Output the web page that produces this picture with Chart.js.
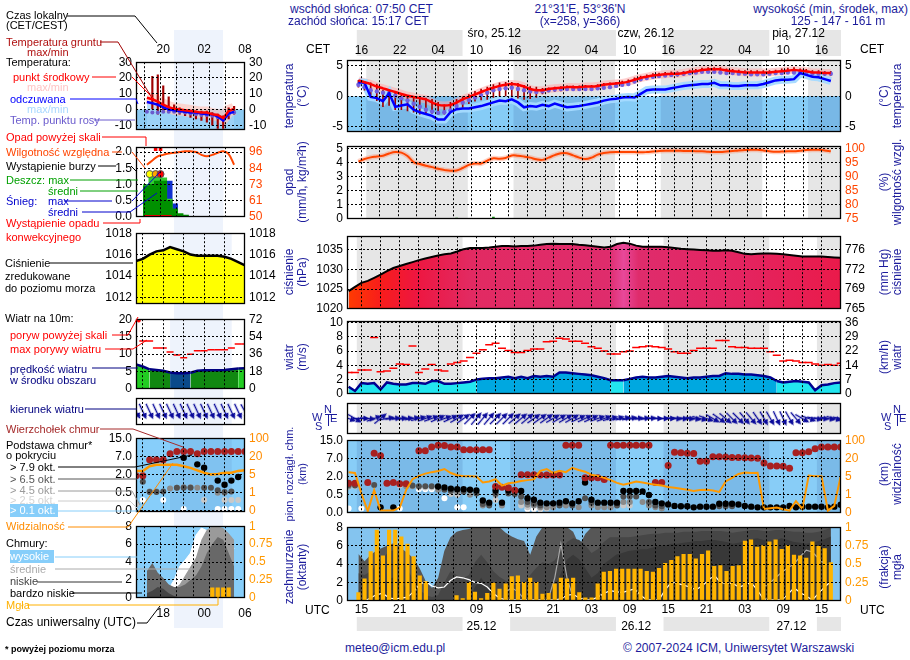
<!DOCTYPE html>
<html lang="pl">
<head>
<meta charset="utf-8">
<title>Meteogram ICM</title>
<script src="https://cdn.jsdelivr.net/npm/chart.js@4.4.1/dist/chart.umd.min.js"></script>
<style>
  html, body { margin: 0; padding: 0; background: #fff; }
  #page { position: relative; width: 910px; height: 660px; overflow: hidden;
          font-family: "Liberation Sans", Arial, sans-serif; }
  #page canvas { position: absolute; }
  .t { position: absolute; white-space: nowrap; font-size: 11px; line-height: 13px; }
  .h { font-size: 12px; color: #1c1c9c; }
  .vt { position: absolute; transform: rotate(-90deg); text-align: center; font-size: 12px;
        line-height: 13px; color: #1c1c9c; white-space: nowrap; }
  svg { position: absolute; left: 0; top: 0; }
</style>
</head>
<body>
<div id="page"></div>
<script>
// hours are counted from 00 UTC 24.12
const H_FIRST = 13;   // first hourly value of the main series
const M_FIRST = 14;   // first hourly value of the legend (left) series

// ---------- main meteogram ----------
const tempMid = [2.6,2.3,2.0,1.6,1.3,1.0,0.7,0.4,0.1,-0.1,
  -0.3,-0.5,-1.0,-1.4,-1.5,-1.4,-1.0,-0.5,-0.1,0.3,
  0.7,1.1,1.4,1.7,1.9,2.0,1.9,1.6,1.2,1.0,
  1.0,1.2,1.3,1.4,1.5,1.5,1.5,1.6,1.6,1.7,
  1.9,2.0,2.1,2.2,2.4,2.7,3.0,3.2,3.4,3.5,
  3.6,3.7,3.7,3.8,4.0,4.1,4.3,4.4,4.4,4.4,
  4.2,4.1,4.0,3.9,3.9,3.9,3.9,3.9,4.0,4.1,
  4.2,4.3,4.2,4.1,3.9,3.9,3.8,3.8];
const feelTemp = [2.3,2.2,-0.1,-0.3,-0.8,0.5,-1.7,-1.5,-1.3,-2.2,
  -2.6,-2.9,-3.2,-3.8,-3.8,-2.6,-2.1,-2.0,-2.0,-1.8,
  -1.6,-1.3,-1.0,-0.7,-0.8,-0.5,-1.0,-1.8,-1.6,-1.7,
  -1.4,-1.6,-1.2,-1.5,-1.8,-1.7,-1.6,-1.4,-1.2,-1.0,
  -0.7,-0.5,-0.4,-0.2,-0.1,-0.2,0.4,1.0,1.1,1.1,
  1.1,1.3,1.5,1.7,1.8,1.9,2.0,2.0,2.2,1.8,
  1.8,1.7,1.7,1.8,1.8,1.8,2.0,2.3,2.6,2.7,
  2.7,2.8,3.8,3.5,3.2,3.1,2.8,2.5];
const dewPoint = [1.9,1.5,1.0,0.8,0.6,0.5,0.1,-0.3,-0.7,-1.2,
  -1.7,-2.2,-2.5,-2.7,-2.6,-2.3,-1.6,-1.0,-0.6,-0.2,
  0.2,0.6,1.0,1.2,1.3,1.4,1.2,1.0,0.8,0.7,
  0.8,1.0,1.1,1.2,1.2,1.2,1.2,1.2,1.2,1.3,
  1.4,1.5,1.7,1.9,2.0,2.4,2.8,3.0,3.2,3.3,
  3.4,3.5,3.6,3.7,3.8,3.9,4.0,4.0,4.0,3.9,
  3.8,3.8,3.7,3.7,3.6,3.6,3.6,3.7,3.8,3.8,
  3.9,3.9,3.9,3.8,3.7,3.7,3.7,3.7];
const groundMax = [2.6,2.4,2.2,2.0,1.0,0.9,0.6,0.3,0.0,-0.1,
  -0.2,-0.3,-0.5,-1.0,-1.4,-1.0,-0.5,-0.1,0.3,0.8,
  1.2,1.5,1.9,2.2,2.3,2.3,2.1,1.8,1.6,1.5,
  1.3,1.4,1.5,1.6,1.7,1.7,1.7,1.8,1.8,1.9,
  2.1,2.2,2.3,2.5,2.7,3.0,3.3,3.5,3.7,3.8,
  3.9,4.0,4.0,4.1,4.3,4.4,4.6,4.7,4.7,4.7,
  4.5,4.4,4.3,4.2,4.2,4.2,4.2,4.2,4.3,4.5,
  4.6,4.7,4.5,4.4,4.2,4.2,4.1,4.1];
const groundMin = [1.5,1.0,0.2,-0.7,-1.7,-1.5,-2.2,-2.2,-2.4,-2.6,
  -2.9,-2.9,-2.8,-2.9,-2.9,-2.6,-2.2,-1.8,-1.2,-0.8,
  -0.6,-0.5,-0.2,0.0,0.0,-0.1,-0.3,-0.5,-0.4,-0.2,
  0.4,0.7,0.8,0.9,1.0,1.0,1.0,1.1,1.1,1.2,
  1.4,1.5,1.6,1.7,1.9,2.2,2.5,2.8,3.0,3.1,
  3.2,3.3,3.3,3.4,3.6,3.7,3.9,4.0,4.0,4.0,
  3.8,3.7,3.6,3.5,3.5,3.5,3.5,3.5,3.6,3.7,
  3.8,3.9,3.8,3.7,3.5,3.5,3.4,3.4];
const relHum = [95.5,96.4,97.0,97.3,97.6,98.4,98.9,98.7,97.5,95.3,
  94.6,94.0,93.5,92.9,92.5,92.2,92.3,93.2,94.3,94.8,
  94.8,95.8,96.7,96.5,96.8,97.7,97.6,97.3,96.9,96.3,
  96.1,96.9,97.8,98.5,98.5,97.7,96.9,96.4,96.9,98.0,
  98.6,98.8,98.9,98.9,98.9,98.9,98.8,98.9,99.1,99.3,
  99.4,99.4,99.4,99.3,99.3,99.2,99.2,99.0,98.9,98.9,
  99.1,99.3,99.5,99.6,99.7,99.7,99.5,99.2,99.0,99.1,
  99.2,99.2,99.4,99.6,99.7,99.7,99.5,99.2];
const precipHours = [29, 30, 35, 36, 56, 64];
const precipMm = [0.05, 0.03, 0.12, 0.04, 0.02, 0.03];
const pressure = [1024.5,1025.6,1026.6,1027.1,1027.9,1028.7,1029.6,1030.4,1030.9,1031.4,
  1031.9,1032.4,1032.8,1033.2,1033.6,1033.9,1034.1,1034.6,1035.2,1035.5,
  1035.5,1035.5,1035.6,1035.8,1036.0,1036.0,1035.9,1036.0,1036.0,1036.1,
  1036.3,1036.5,1036.6,1036.5,1036.5,1036.5,1036.3,1036.2,1036.0,1035.8,
  1035.6,1035.8,1036.5,1036.8,1036.6,1036.1,1035.8,1035.8,1035.8,1035.8,
  1035.7,1035.5,1035.3,1035.2,1035.1,1035.0,1034.9,1034.8,1034.8,1034.9,
  1034.8,1034.4,1034.0,1033.9,1034.0,1034.1,1034.1,1034.0,1033.9,1033.7,
  1033.5,1033.3,1033.3,1033.3,1033.3,1033.2,1033.1,1033.0];
const windSpeed = [1.0,0.4,1.5,1.4,1.5,0.6,1.6,1.4,1.3,1.3,
  1.5,1.5,1.4,1.8,1.8,1.4,1.4,1.5,1.6,1.7,
  2.0,2.1,2.2,2.2,2.3,2.4,2.2,2.4,2.2,2.5,
  2.4,2.5,2.4,3.0,3.0,2.9,2.8,2.7,2.6,2.4,
  2.2,1.9,1.9,1.9,2.1,2.3,2.4,2.3,2.3,2.4,
  2.5,2.4,2.3,2.2,2.3,2.3,2.4,2.5,2.5,2.9,
  2.8,2.8,2.7,2.7,2.6,2.5,2.3,1.8,1.6,1.7,
  1.8,1.7,1.6,0.5,1.2,1.3,1.5,1.6];
const windGust = [3.0,3.0,3.35,3.35,7.9,3.1,3.2,3.6,4.2,4.1,
  6.7,3.0,3.5,4.1,3.35,3.2,4.2,4.4,4.6,5.1,
  5.7,6.2,6.9,7.1,6.4,6.1,5.8,5.8,6.1,6.3,
  6.3,7.3,7.4,7.8,7.7,7.4,7.4,7.1,6.6,6.4,
  6.0,5.6,5.6,5.9,6.0,6.5,6.6,6.7,6.6,6.5,
  6.3,5.9,5.7,5.7,6.1,6.4,6.4,6.4,7.5,7.5,
  6.6,6.5,6.5,6.4,6.4,6.4,5.9,5.4,4.6,4.7,
  4.6,4.4,4.4,4.2,4.0,4.1,4.0,4.3];
const windDir = [290,300,270,275,250,230,260,265,265,265,
  260,255,250,250,245,250,245,240,235,225,
  220,220,220,225,225,225,230,230,230,235,
  235,235,240,240,240,240,245,245,245,250,
  250,255,255,260,260,265,265,265,270,270,
  270,275,275,275,280,285,290,300,305,310,
  315,315,320,320,325,330,330,335,335,330,
  320,300,290,280,275,280,285,280];
const cloudTop = [1.45,1.45,null,1.5,9.2,8.1,1.45,1.5,1.4,1.4,
  null,10.4,10.4,12.0,12.8,12.7,12.0,12.0,10.8,10.8,
  10.8,10.8,10.8,1.18,1.12,1.08,0.86,2.5,2.5,2.5,
  2.4,2.4,2.4,2.4,12.8,12.8,12.8,1.9,1.9,1.9,
  1.75,12.8,12.8,12.8,12.8,12.8,12.8,12.8,1.5,1.5,
  5.0,9.7,9.5,9.3,9.1,6.2,6.2,7.7,7.7,7.6,
  7.4,7.4,7.3,7.2,7.0,5.7,4.9,4.9,4.8,4.3,
  9.5,9.5,9.9,11.2,12.0,12.0,12.0,12.0];
const base79 = [null,null,null,null,null,0.15,null,0.15,null,null,
  null,null,null,null,1.17,1.1,1.0,0.95,0.95,0.9,
  0.85,0.34,0.28,0.84,0.28,0.84,0.84,0.8,0.4,0.36,
  0.28,0.26,0.26,0.28,0.32,0.26,0.32,1.5,0.36,0.28,
  0.28,0.28,0.28,0.8,0.8,0.8,0.77,0.49,0.3,0.26,
  0.23,0.19,0.18,0.18,0.15,0.17,0.17,0.17,0.25,0.25,
  0.25,0.23,0.19,0.17,0.15,0.15,0.15,0.15,0.15,0.19,
  0.15,0.17,0.17,0.17,0.17,0.15,0.17,0.22];
const base65Hours = [13,14,17,23,24,25,26,28,29,31,33,34,35,36,38,39,40,41,42,43,46,48,50,51,55,56,57,58,60,61,62,71,72,73];
const base65Km = [1.3,1.25,1.3,1.25,1.2,1.2,1.2,0.9,0.8,0.75,0.6,0.24,0.2,0.6,0.6,0.55,0.45,0.3,0.25,0.2,0.2,0.2,0.4,0.28,0.2,0.45,0.45,0.45,0.3,0.2,0.18,0.18,0.18,0.18];
const base45Hours = [13,22,23,27,30,32,34,36,37,40,41,42,43,44,45,47,49,51,52,53,54,56,57,59,60,61,62];
const base45Km = [1.2,1.2,1.2,0.9,0.7,0.5,0.2,0.5,0.2,0.3,0.22,0.2,0.15,0.15,0.15,0.2,0.15,0.2,0.15,0.15,0.15,0.3,0.3,0.3,0.2,0.15,0.12];
const base25Hours = [13,14,21,22,24,25,26,29,30,36,40,41,43,44,56,57];
const base25Km = [1.15,1.2,1.25,1.3,1.1,1.1,1.1,0.55,0.5,0.35,0.2,0.15,0.12,0.12,0.2,0.2];
const base01Hours = [13,15,21,24,25,26,28,30,31,41,42,43];
const base01Km = [0.12,0.12,0.12,0.95,0.95,0.95,0.4,0.15,0.15,0.1,0.1,0.1];
const visibility = [8.6,7.9,1.3,0.09,2.0,0.12,0.12,0.12,0.29,2.0,
  4.4,5.5,7.4,8.6,9.5,11.2,7.9,6.0,5.3,5.3,
  5.0,3.7,3.9,4.4,3.0,3.5,3.7,4.0,4.2,4.4,
  9.7,11.2,7.9,9.7,8.6,12.2,10.4,9.0,6.5,5.5,
  4.7,4.2,3.6,3.2,3.5,3.9,3.7,3.4,3.2,3.0,
  2.7,2.5,2.3,2.1,1.8,2.0,2.1,1.9,1.6,3.9,
  4.7,7.1,8.3,7.9,8.0,0.21,0.25,0.29,0.2,0.12,
  0.64,0.21,5.8,5.3,5.3,0.12,0.38,5.3];
const cloudTotal = [5.1,4.3,5.0,5.5,5.8,6.1,6.3,5.7,5.2,4.6,
  3.5,2.1,1.4,2.5,5.4,6.9,7.5,7.7,7.8,8,
  8,8,8,8,7.4,7.0,6.7,6.5,5.0,7.0,
  8,8,8,8,8,7.5,6.0,7.3,8,8,
  8,8,8,8,8,8,8,8,8,8,
  8,8,8,8,8,8,8,8,8,8,
  8,8,8,8,8,8,8,8,8,8,
  8,8,8,8,8,8,8,8];
const cloudLow = [3.0,2.8,3.2,4.0,4.6,5.4,5.5,4.6,3.4,2.2,
  1.2,0.6,0.4,0.6,2.0,3.2,2.8,2.4,2.8,4.2,
  5.0,4.2,3.2,2.6,2.2,1.8,1.6,2.0,2.8,3.6,
  4.2,4.0,4.4,5.4,6.4,6.8,6.6,6.0,5.2,5.6,
  6.4,6.9,6.9,6.9,6.9,7.0,7.1,7.2,7.3,7.3,
  7.4,7.4,7.4,7.5,7.5,7.5,7.6,7.6,7.6,7.6,
  7.5,7.4,7.5,7.6,7.7,7.7,7.6,7.6,7.7,7.7,
  7.6,7.5,7.5,7.4,7.4,7.5,7.7,7.9];
const cloudVeryLow = [0,0,0.5,1.2,1.8,2.4,2.6,2.0,1.2,0.5,
  0,0,0,0,0,0,0,0,0,1.5,
  2.5,1.5,0.5,0,0,0,0,0,0,0,
  0.5,1.0,1.5,3.0,4.5,5.0,4.5,3.5,2.5,3.0,
  4.0,4.5,5.0,5.2,5.4,5.5,5.6,5.6,5.8,6.0,
  6.0,6.2,6.2,6.3,6.4,6.5,6.5,6.6,6.6,6.5,
  6.4,6.2,6.3,6.5,6.7,6.8,6.6,6.5,6.6,6.8,
  6.6,6.4,6.3,6.2,6.3,6.5,6.7,7.0];
const cloudHigh = [0,0,0.3,0.7,0.8,0.3,0.2,0.3,0.4,1.0,
  1.8,2.1,1.6,1.4,1.5,2.2,2.6,2.5,2.3,2.0,
  1.9,1.5,0.8,0.3,0.1,0.1,0.1,0.1,0.1,0.1,
  0.1,0.1,0.1,0.2,0.6,0.7,0.3,0.1,0.1,0.4,
  0.8,1.1,1.0,0.9,1.1,1.3,0.6,0.1,0.1,0.1,
  1.2,2.0,1.9,1.7,1.5,1.2,1.6,2.2,2.8,2.0,
  1.9,1.9,1.5,1.7,2.0,1.2,0.2,0.1,0.1,0.1,
  0.7,1.4,0.9,0.5,0.1,0.8,1.5,2.1];
const midHours = [37,38,39,40,44,45,46,47,48,79,80,81,82,83,84,85,86,87,88,89,90];
const midOkta = [1.0,1.4,1.0,0.2,0.3,2.5,6.2,2.5,0.3,1.5,1.9,2.5,3.1,3.6,4.0,4.8,5.5,5.3,4.6,4.0,3.9];
const fog = [0.11,0.30,0.67,0.96,0.61,0.96,0.96,0.87,0.77,0.60,
  0.34,0.26,0,0,0,0,0.07,0.03,0.25,0.12,
  0.03,0.10,0.24,0.16,0.23,0.33,0.34,0.25,0.31,0.25,
  0.09,0.10,0.23,0.31,0.30,0.31,0.11,0.04,0.04,0.23,
  0.39,0.40,0.43,0.43,0.43,0.43,0.43,0.40,0.39,0.44,
  0.51,0.55,0.60,0.63,0.63,0.57,0.63,0.68,0.47,0.48,
  0.40,0.47,0.48,0.81,0.83,0.73,0.75,0.80,0.83,0.70,
  0.75,0.62,0.61,0.58,0.80,0.74,0.71,0.52];

// ---------- legend example (left column) ----------
const miniTemp = [7.4,6.5,5.0,3.0,1.5,0.4,0.0,-0.5,-1.0,-1.5,-2.0,-2.0,-3.0,-3.5,-5.5,-1.0,0.4];
const miniFeel = [4.7,4.0,3.0,1.5,0.0,-0.5,-1.0,-1.5,-2.0,-2.0,-2.5,-3.0,-3.0,-4.5,-7.0,-2.5,-1.5];
const miniDew = [-1.5,-2.0,-2.0,-1.5,-1.5,-1.5,-1.5,-2.0,-2.5,-3.0,-3.5,-3.5,-4.0,-5.0,-6.0,-3.0,-2.0];
const miniGroundHours = [15,16,17,18,19,20,21,22,23,24,25,26,27,28,29,30];
const miniGroundMax = [21,22,15,8,3,1,0,0,-1,-1,-1,-2,-3,-4,1,2];
const miniGroundMin = [0,-3,-2,-1,-2,-3,-4,-5,-6,-7,-8,-10,-12,-12,-6,-3];
const miniRh = [87,90,93,94,95,95.5,96,96.5,96.5,96,94,93,94,95.5,96.5,94.5,87];
const miniRainHours = [14,15,16,17,18,19,20,21];
const miniRainMm = [0.95,1.0,1.1,1.1,0.5,0.25,0.1,0.05];
const miniRainMaxHours = [14,15,16,17,18];
const miniRainMax = [1.0,1.25,1.3,1.2,0.55];
const miniSnowHours = [18,19];
const miniSnowMm = [1.1,0.4];
const stormHours = [14.5,15.6,16.5];
const stormLevel = [1.32,1.32,1.32];
const overHours = [15.6,16.5];
const overLevel = [2.09,2.09];
const precipOccHours = [14,15,16,17,18];
const precipOccLevel = [0.03,0.03,0.03,0.03,0.03];
const miniPress = [1015.4,1015.6,1016.0,1016.3,1016.4,1016.7,1016.5,1016.3,1016.0,1015.9,1015.9,1015.9,1015.9,1015.8,1015.6,1015.3,1015.0];
const miniWind = [7.0,6.4,5.6,5.4,5.2,4.7,4.5,4.5,4.6,5.2,5.3,5.3,5.3,5.4,5.6,5.8,5.9];
const miniGust = [null,13.7,13.7,11.7,11.7,10.6,9.7,8.9,9.9,10.9,10.9,11.2,11.2,11.2,11.7,12.9,12.9];
const miniGustOverHours = [14.4];
const miniGustOver = [19.6];
const miniDir = [330,335,335,335,335,335,335,335,335,335,335,335,335,335,335,335,330];
const miniTop = [1.9,1.9,6.1,6.1,6.1,8.1,9.1,9.1,9.1,8.1,9.1,9.1,9.1,9.1,9.1,9.1,9.1];
const miniB79 = [null,null,null,null,null,null,null,6.6,null,4.8,3.9,null,1.5,1.16,1.5,1.8,null];
const miniB65 = [null,1.4,0.56,0.56,0.6,null,0.9,0.9,0.9,null,0.9,0.9,0.7,0.56,0.6,null,null];
const miniB45 = [null,null,0.6,0.6,null,0.85,0.9,0.95,0.95,0.9,null,null,0.5,0.5,null,null,null];
const miniB25 = [0.18,null,null,null,null,null,null,null,null,null,0.3,null,null,0.3,0.3,0.3,null];
const miniB01 = [null,0.3,null,null,0.3,null,null,0.05,null,null,null,null,0.05,0.05,0.05,0.05,null];
const miniVis = [8,8,11.9,13,13,13,13,11.9,10.5,8.5,6.5,5,5.5,6.5,6.5,8,8.5];
const miniHigh = [0,0,0,0,1,2,3.5,4.2,5.0,7.0,7.8,7.5,7.5,7.6,7.2,6.5,5.5];
const miniMid = [1.5,3.0,2.5,2.0,1.5,1.0,1.5,2.5,3.5,4.5,6.5,7.6,8,8,7.8,7.2,6.5];
const miniLow = [3.0,3.9,2.8,2.2,1.5,1.2,1.2,1.5,2.0,2.5,3.5,5.0,6.0,6.8,6.5,5.0,3.5];
const miniVeryLow = [0.5,0.8,1.2,1.0,0.5,0.2,0,0,0,0,0,0,0,0,0,0,0];
const miniFog = [0,0,0,0,0,0,0,0,0,0,0,0,0.14,0.14,0.14,0.14,0];

// ---------- axes ----------
const nights = [[14.28, 30.83], [38.28, 54.83], [62.28, 78.83], [86.28, 102.83]];
const miniNight = [19, 28.05];
const hourTicks = [15, 21, 27, 33, 39, 45, 51, 57, 63, 69, 75, 81, 87];
const cetLabels = ['16','22','04','10','16','22','04','10','16','22','04','10','16'];
const utcLabels = ['15','21','03','09','15','21','03','09','15','21','03','09','15'];
const dayTopHours = [35.8, 59.5, 83.4];
const dayTopLabels = ['śro, 25.12', 'czw, 26.12', 'pią, 27.12'];
const dayBottomHours = [33.8, 58, 82.3];
const dayBottomLabels = ['25.12', '26.12', '27.12'];
const tempTicks = [-5, 0, 5], tempLabels = ['-5', '0', '5'];
const precTicks = [0, 1, 2, 3, 4, 5], precLabels = ['0', '1', '2', '3', '4', '5'];
const humTicks = [75, 80, 85, 90, 95, 100], humLabels = ['75', '80', '85', '90', '95', '100'];
const pressTicks = [1020, 1025, 1030, 1035], pressLabels = ['1020', '1025', '1030', '1035'];
const mmHgLabels = ['765', '769', '772', '776'];
const windTicks = [0, 2, 4, 6, 8, 10], windLabels = ['0', '2', '4', '6', '8', '10'];
const kmhLabels = ['0', '7', '14', '22', '29', '36'];
const baseKmEdges = [0, 0.5, 2, 7, 15], visKmEdges = [0, 1, 5, 20, 100];
const baseLabels = ['0.0', '0.5', '2.0', '7.0', '15.0'], visLabels = ['0', '1', '5', '20', '100'];
const oktaTicks = [0, 2, 4, 6, 8], oktaLabels = ['0', '2', '4', '6', '8'];
const fracTicks = [0, 0.25, 0.5, 0.75, 1], fracLabels = ['0', '0.25', '0.5', '0.75', '1'];

const X0 = 12.75, X1 = 90.05;
const grid3 = [];
for (let h = 15; h < X1 - 1; h += 3) grid3.push(h);
const miniGrid = [15, 18, 21, 24, 27];

Chart.defaults.font.family = '"Liberation Sans", Arial, sans-serif';
Chart.defaults.font.size = 12;
Chart.defaults.color = '#000';

const page = document.getElementById('page');

// ---------- helpers ----------
const series = (vals, first) => vals.map((v, i) => ({x: first + i, y: v}));
const sparse = (hours, vals) => hours.map((h, i) => ({x: h, y: vals[i]}));
function toIdx(v, e) {
  if (v == null) return null;
  for (let i = 1; i < e.length; i++) if (v <= e[i]) return i - 1 + (v - e[i - 1]) / (e[i] - e[i - 1]);
  return e.length - 1;
}
const idxPts = (pts, e) => pts.map(p => ({x: p.x, y: toIdx(p.y, e)}));
const line = (data, color, width, extra) => Object.assign({data, borderColor: color, borderWidth: width, pointRadius: 0, fill: false, tension: 0}, extra || {});
const dots = (data, color, r, extra) => Object.assign({data, showLine: false, pointRadius: r, pointBackgroundColor: color, pointBorderWidth: 0}, extra || {});
const bars = (data, color, thick, extra) => Object.assign({type: 'bar', data, backgroundColor: color, barThickness: thick, grouped: false, borderWidth: 0}, extra || {});
const dashes = (data, color, r) => ({data, showLine: false, pointStyle: 'line', pointRadius: r, pointBorderColor: color, pointBorderWidth: 1.5});
function stack(list) { list.forEach((d, i) => { d.order = list.length - i; }); return list; }

function arrowImg(len, color) {
  const c = document.createElement('canvas');
  c.width = len; c.height = 7;
  const g = c.getContext('2d');
  g.strokeStyle = color; g.fillStyle = color; g.lineWidth = 1.4;
  g.beginPath(); g.moveTo(0, 3.5); g.lineTo(len - 4, 3.5); g.stroke();
  g.beginPath(); g.moveTo(len, 3.5); g.lineTo(len - 6, 0.5); g.lineTo(len - 6, 6.5); g.closePath(); g.fill();
  return c;
}

const bgPlugin = {
  id: 'bg',
  beforeDatasetsDraw(chart, args, o) {
    const a = chart.chartArea, ctx = chart.ctx, xs = chart.scales.x;
    const paint = (top, bot, day, night) => {
      if (day) { ctx.fillStyle = day; ctx.fillRect(a.left, top, a.right - a.left, bot - top); }
      if (night && o.bands) {
        ctx.fillStyle = night;
        o.bands.forEach(b => {
          const l = Math.max(a.left, xs.getPixelForValue(b[0]));
          const r = Math.min(a.right, xs.getPixelForValue(b[1]));
          if (r > l) ctx.fillRect(l, top, r - l, bot - top);
        });
      }
    };
    ctx.save();
    if (o.fullY) paint(o.fullY[0], o.fullY[1], o.day, o.night);
    else paint(a.top, a.bottom, o.day, o.night);
    if (o.below) {
      const yz = chart.scales.y.getPixelForValue(o.below.value);
      paint(yz, a.bottom, o.below.day, o.below.night);
    }
    ctx.restore();
  },
  afterDraw(chart, args, o) {
    if (!o.frame) return;
    const a = chart.chartArea, ctx = chart.ctx;
    ctx.save();
    ctx.strokeStyle = '#000'; ctx.lineWidth = 1.3;
    ctx.strokeRect(Math.round(a.left) + 0.5, Math.round(a.top) + 0.5, Math.round(a.width) - 1, Math.round(a.height) - 1);
    ctx.restore();
  }
};
Chart.register(bgPlugin);

// grid lines and tick labels are drawn above the datasets (z: 1), as in the original
function gridX(min, max, vals) {
  return {type: 'linear', min, max,
    grid: {color: '#000', lineWidth: 1, drawTicks: false, z: 1},
    border: {display: false, dash: [2, 2]},
    ticks: {display: false},
    afterBuildTicks: s => { s.ticks = vals.map(v => ({value: v})); },
    afterFit: s => { s.height = 0; }};
}
function labelAxis(pos, min, max, vals, labels, h) {
  return {type: 'linear', axis: 'x', position: pos, min, max,
    grid: {display: false, drawTicks: false}, border: {display: false},
    ticks: {autoSkip: false, maxRotation: 0, padding: 0, z: 1, callback: (v, i) => labels[i]},
    afterBuildTicks: s => { s.ticks = vals.map(v => ({value: v})); },
    afterFit: s => { s.height = h; }};
}
function yAx(pos, min, max, vals, labels, w, color, grid) {
  return {type: 'linear', position: pos, min, max,
    grid: {display: !!grid, color: '#000', lineWidth: 1, drawTicks: false, z: 1},
    border: {display: false, dash: [2, 2]},
    ticks: {color: color || '#000', padding: 4, autoSkip: false, z: 1, callback: (v, i) => labels[i]},
    afterBuildTicks: s => { s.ticks = vals.map(v => ({value: v})); },
    afterFit: s => { s.width = w; }};
}

function makeChart(s) {
  const c = document.createElement('canvas');
  c.width = s.w; c.height = s.h;
  Object.assign(c.style, {left: s.l + 'px', top: s.t + 'px', width: s.w + 'px', height: s.h + 'px'});
  page.appendChild(c);
  return new Chart(c, {
    type: 'line',
    data: {datasets: s.datasets || []},
    options: {
      responsive: false, animation: false, events: [],
      layout: {padding: s.pad},
      plugins: {legend: {display: false}, tooltip: {enabled: false}, bg: s.bg || {}},
      scales: Object.assign({x: s.x}, s.scales || {})
    }
  });
}
function mainPanel(top, bottom, scales, datasets, bg, noY) {
  return makeChart({l: 300, t: top - 8, w: 610, h: bottom - top + 16,
    pad: {top: 8, bottom: 8, left: noY ? 47 : 0, right: noY ? 69 : 0},
    x: gridX(X0, X1, grid3), scales, datasets, bg});
}
function miniPanel(top, bottom, scales, datasets, bg, noY) {
  return makeChart({l: 100, t: top - 8, w: 180, h: bottom - top + 16,
    pad: {top: 8, bottom: 8, left: noY ? 36 : 0, right: noY ? 35 : 0},
    x: gridX(14, 30, miniGrid), scales, datasets, bg});
}
function pressureFill(ctx) {
  const ch = ctx.chart, a = ch.chartArea;
  if (!a) return '#e02a66';
  const g = ch.ctx.createLinearGradient(a.left, 0, a.right, 0);
  [[0, '#ff3c00'], [0.07, '#f81c1c'], [0.14, '#ee1640'], [0.25, '#e22a62'], [0.53, '#df2c6c'],
   [0.56, '#e8489a'], [0.59, '#df2c6c'], [0.8, '#e42460'], [1, '#ea1a4a']].forEach(s => g.addColorStop(s[0], s[1]));
  return g;
}

const grayBg = {day: '#ffffff', night: '#e6e6e6', bands: nights, frame: true};
const miniBg = {day: '#ffffff', night: '#eef3fc', bands: [miniNight], frame: true};

// ---------- main panels ----------
mainPanel(57, 135, {
  y: yAx('left', -5.8, 5.9, tempTicks, tempLabels, 47, null, true),
  y2: yAx('right', -5.8, 5.9, tempTicks, tempLabels, 69)
}, stack([
  line(series(tempMid, H_FIRST), 'rgba(255,170,170,0.55)', 8, {tension: 0.3}),
  line(series(feelTemp, H_FIRST), 'rgba(165,218,255,0.95)', 8),
  bars(groundMax.map((v, i) => ({x: H_FIRST + i, y: [groundMin[i], v]})), '#a00000', 1),
  dots(series(dewPoint, H_FIRST), '#7060e0', 2.2),
  line(series(feelTemp, H_FIRST), '#0000ff', 2.5),
  line(series(tempMid, H_FIRST), '#ff0000', 2.5, {tension: 0.3})
]), {day: '#ffffff', night: '#e6e6e6', bands: nights, below: {value: 0, day: '#86ccf6', night: '#78b8e6'}, frame: true});

mainPanel(143, 222, {
  y: yAx('left', 0, 5.2, precTicks, precLabels, 47, null, true),
  y2: yAx('right', 75, 101, humTicks, humLabels, 69, '#ff4500')
}, stack([
  bars(sparse(precipHours, precipMm), '#109010', 2),
  line(series(relHum, H_FIRST), 'rgba(255,130,90,0.35)', 5, {yAxisID: 'y2', tension: 0.4}),
  line(series(relHum, H_FIRST), '#ff4500', 2, {yAxisID: 'y2', tension: 0.4})
]), grayBg);

mainPanel(233, 312, {
  y: yAx('left', 1020, 1038.5, pressTicks, pressLabels, 47, null, true),
  y2: yAx('right', 1020, 1038.5, pressTicks, mmHgLabels, 69)
}, stack([
  line(series(pressure, H_FIRST), '#000000', 2, {fill: 'start', backgroundColor: pressureFill})
]), grayBg);

mainPanel(318, 397, {
  y: yAx('left', 0, 10.2, windTicks, windLabels, 47, null, true),
  y2: yAx('right', 0, 10.2, windTicks, kmhLabels, 69)
}, stack([
  line(series(windSpeed, H_FIRST), '#000090', 2.5, {fill: 'origin', backgroundColor: '#22e6f0',
    segment: {backgroundColor: c => (c.p0.parsed.y + c.p1.parsed.y) / 2 >= 1.95 ? '#00a8e0' : '#22e6f0'}}),
  dashes(series(windGust, H_FIRST), '#ff0000', 4)
]), grayBg);

const arrowMain = arrowImg(16, '#0a0a9a');
mainPanel(403, 434, {y: {display: false, min: -1, max: 1}}, stack([
  {data: windDir.map((d, i) => ({x: H_FIRST + i, y: 0})), showLine: false, pointStyle: arrowMain,
   pointRadius: 6, pointRotation: c => windDir[c.dataIndex] + 90}
]), grayBg, true);

mainPanel(437, 516, {
  y: yAx('left', 0, 4, [0, 1, 2, 3, 4], baseLabels, 47, null, true),
  y2: yAx('right', 0, 4, [0, 1, 2, 3, 4], visLabels, 69, '#ff8c00')
}, stack([
  dots(idxPts(sparse(base01Hours, base01Km), baseKmEdges), '#ffffff', 3),
  dots(idxPts(sparse(base25Hours, base25Km), baseKmEdges), '#c8c8c8', 3),
  dots(idxPts(sparse(base45Hours, base45Km), baseKmEdges), '#8a8a8a', 3),
  dots(idxPts(sparse(base65Hours, base65Km), baseKmEdges), '#505050', 3),
  dots(idxPts(series(base79, H_FIRST), baseKmEdges), '#000000', 3.2),
  dots(idxPts(series(cloudTop, H_FIRST), baseKmEdges), '#a82020', 3.5),
  line(idxPts(series(visibility, H_FIRST), visKmEdges), '#ff9900', 2, {yAxisID: 'y2'})
]), {day: '#88cdf7', night: '#7abae8', bands: nights, frame: true});

mainPanel(524, 604, {
  y: yAx('left', 0, 8, oktaTicks, oktaLabels, 47, null, true),
  y2: yAx('right', 0, 1, fracTicks, fracLabels, 69, '#ff9900')
}, stack([
  line(series(cloudTotal, H_FIRST), 'rgba(0,0,0,0)', 0, {fill: 'origin', backgroundColor: '#575757'}),
  line(series(cloudLow, H_FIRST), 'rgba(0,0,0,0)', 0, {fill: 'origin', backgroundColor: '#464646'}),
  line(series(cloudVeryLow, H_FIRST), 'rgba(0,0,0,0)', 0, {fill: 'origin', backgroundColor: '#383838'}),
  line(sparse(midHours, midOkta), '#a8a8a8', 1.2, {spanGaps: 1.5}),
  line(series(cloudHigh, H_FIRST), '#ffffff', 1.2),
  bars(series(fog, H_FIRST), '#ffb400', 3.5, {yAxisID: 'y2'})
]), {day: '#84c4ef', frame: true});

// time axes above and below the main panels
makeChart({l: 300, t: 27, w: 610, h: 30, pad: {top: 0, bottom: 0, left: 47, right: 69},
  x: labelAxis('bottom', X0, X1, hourTicks, cetLabels, 14),
  scales: {x2: labelAxis('top', X0, X1, dayTopHours, dayTopLabels, 14), y: {display: false}},
  bg: {night: '#e6e6e6', bands: nights, fullY: [3, 29]}});
makeChart({l: 300, t: 603, w: 610, h: 30, pad: {top: 0, bottom: 0, left: 47, right: 69},
  x: labelAxis('top', X0, X1, hourTicks, utcLabels, 14),
  scales: {x2: labelAxis('bottom', X0, X1, dayBottomHours, dayBottomLabels, 14), y: {display: false}},
  bg: {night: '#e6e6e6', bands: nights, fullY: [14, 28]}});

// ---------- legend column panels ----------
const miniTempChart = miniPanel(59, 133, {
  y: yAx('left', -12.9, 30, [-10, 0, 10, 20, 30], ['-10', '0', '10', '20', '30'], 36, null, true),
  y2: yAx('right', -12.9, 30, [-10, 0, 10, 20, 30], ['-10', '0', '10', '20', '30'], 35)
}, stack([
  line(series(miniFeel, M_FIRST), 'rgba(0,0,0,0)', 0, {fill: 'start', backgroundColor: 'rgba(160,212,250,0.75)'}),
  line(series(miniTemp, M_FIRST), 'rgba(255,200,190,0.7)', 12),
  bars(miniGroundMax.map((v, i) => ({x: miniGroundHours[i], y: [miniGroundMin[i], v]})), '#a00000', 1.5),
  dots(series(miniDew, M_FIRST), '#6a5acd', 2),
  line(series(miniFeel, M_FIRST), '#0000ff', 2.5),
  line(series(miniTemp, M_FIRST), '#ff0000', 2.5)
]), Object.assign({}, miniBg, {below: {value: 0, day: '#8ccaf2', night: '#84c2ee'}}));

miniPanel(144, 220, {
  y: yAx('left', 0, 2.15, [0, 0.5, 1, 1.5, 2], ['0.0', '0.5', '1.0', '1.5', '2.0'], 36, null, true),
  y2: yAx('right', 50, 99.45, [50, 61.5, 73, 84.5, 96], ['50', '61', '73', '84', '96'], 35, '#ff4500')
}, stack([
  bars(sparse(miniSnowHours, miniSnowMm), '#1030d0', 7),
  bars(sparse(miniRainMaxHours, miniRainMax), '#33cc33', 7),
  bars(sparse(miniRainHours, miniRainMm), '#009000', 7),
  dashes(sparse(precipOccHours, precipOccLevel), '#ff0000', 3),
  line(series(miniRh, M_FIRST), '#ff4500', 2, {yAxisID: 'y2', tension: 0.4}),
  dots(sparse(stormHours, stormLevel), ['#ffff00', '#ffa500', '#ff0000'], 3.5, {pointBorderWidth: 1, pointBorderColor: '#555'}),
  dots(sparse(overHours, overLevel), '#ff0000', 2.5, {pointStyle: 'rect'})
]), miniBg);

miniPanel(230, 307, {
  y: yAx('left', 1011.4, 1018, [1012, 1014, 1016, 1018], ['1012', '1014', '1016', '1018'], 36, null, true),
  y2: yAx('right', 1011.4, 1018, [1012, 1014, 1016, 1018], ['1012', '1014', '1016', '1018'], 35)
}, stack([
  line(series(miniPress, M_FIRST), '#000000', 2.5, {fill: 'start', backgroundColor: '#ffff00'})
]), miniBg);

miniPanel(316, 392, {
  y: yAx('left', 0, 20, [0, 5, 10, 15, 20], ['0', '5', '10', '15', '20'], 36, null, true),
  y2: yAx('right', 0, 20, [0, 5, 10, 15, 20], ['0', '18', '36', '54', '72'], 35)
}, stack([
  line(series(miniWind, M_FIRST), '#000080', 2.5, {fill: 'origin', backgroundColor: '#118811',
    segment: {backgroundColor: c => {
      const m = (c.p0.parsed.y + c.p1.parsed.y) / 2;
      return m >= 5.8 ? '#22cc22' : (m < 4.8 ? '#0a4a8a' : '#118811');
    }}}),
  dashes(series(miniGust, M_FIRST), '#ff0000', 3.5),
  dots(sparse(miniGustOverHours, miniGustOver), '#ff0000', 2)
]), miniBg);

const arrowMini = arrowImg(17, '#0a0a9a');
miniPanel(398, 425, {y: {display: false, min: -1, max: 1}}, stack([
  {data: miniDir.map((d, i) => ({x: M_FIRST + i, y: 0})), showLine: false, pointStyle: arrowMini,
   pointRadius: 6, pointRotation: c => miniDir[c.dataIndex] + 90}
]), miniBg, true);

miniPanel(435, 515, {
  y: yAx('left', -0.05, 4, [0, 1, 2, 3, 4], baseLabels, 36, null, true),
  y2: yAx('right', -0.05, 4, [0, 1, 2, 3, 4], visLabels, 35, '#ff8c00')
}, stack([
  dots(idxPts(series(miniB01, M_FIRST), baseKmEdges), '#ffffff', 3),
  dots(idxPts(series(miniB25, M_FIRST), baseKmEdges), '#c8c8c8', 3),
  dots(idxPts(series(miniB45, M_FIRST), baseKmEdges), '#8a8a8a', 3),
  dots(idxPts(series(miniB65, M_FIRST), baseKmEdges), '#505050', 3),
  dots(idxPts(series(miniB79, M_FIRST), baseKmEdges), '#000000', 3.2),
  dots(idxPts(series(miniTop, M_FIRST), baseKmEdges), '#a82020', 3.5),
  line(idxPts(series(miniVis, M_FIRST), visKmEdges), '#ff9900', 2.5, {yAxisID: 'y2'})
]), {day: '#87cefa', night: '#80c2f0', bands: [miniNight], frame: true});

miniPanel(523, 601, {
  y: yAx('left', 0, 8, oktaTicks, ['0', '2', '4', '6', '8'], 36, null, true),
  y2: yAx('right', 0, 1, fracTicks, fracLabels, 35, '#ff9900')
}, stack([
  line(series(miniHigh, M_FIRST), '#ffffff', 1, {fill: 'origin', backgroundColor: '#ffffff'}),
  line(series(miniMid, M_FIRST), 'rgba(0,0,0,0)', 0, {fill: 'origin', backgroundColor: '#9a9a9a'}),
  line(series(miniLow, M_FIRST), 'rgba(0,0,0,0)', 0, {fill: 'origin', backgroundColor: '#686868'}),
  line(series(miniVeryLow, M_FIRST), 'rgba(0,0,0,0)', 0, {fill: 'origin', backgroundColor: '#444444'}),
  bars(series(miniFog, M_FIRST), '#ffb400', 3.5, {yAxisID: 'y2'})
]), {day: '#87cefa', night: '#87cefa', frame: true});

makeChart({l: 100, t: 40, w: 180, h: 18, pad: {top: 0, bottom: 0, left: 36, right: 35},
  x: labelAxis('bottom', 14, 30, [18, 24, 30], ['20', '02', '08'], 16), scales: {y: {display: false}}});
makeChart({l: 100, t: 604, w: 180, h: 18, pad: {top: 0, bottom: 0, left: 36, right: 35},
  x: labelAxis('bottom', 14, 30, [18, 24, 30], ['18', '00', '06'], 16), scales: {y: {display: false}}});

// pale night band behind the legend column, placed from the legend chart's own scale
(() => {
  const xs = miniTempChart.scales.x;
  const l = 100 + xs.getPixelForValue(miniNight[0]), r = 100 + xs.getPixelForValue(miniNight[1]);
  const d = document.createElement('div');
  d.style.cssText = `position:absolute;left:${l}px;top:30px;width:${r - l}px;height:598px;background:#eef3fc;`;
  page.insertBefore(d, page.firstChild);
})();

// ---------- texts ----------
function txt(s, x, y, style, cls) {
  const d = document.createElement('div');
  d.className = 't' + (cls ? ' ' + cls : '');
  d.textContent = s;
  d.style.left = x + 'px'; d.style.top = y + 'px';
  if (style) d.style.cssText += style;
  page.appendChild(d);
  return d;
}
txt('wschód słońca: 07:50 CET', 290, 3, '', 'h');
txt('zachód słońca: 15:17 CET', 288, 15, '', 'h');
txt("21°31'E, 53°36'N", 580, 3, 'transform:translateX(-50%);', 'h');
txt('(x=258,  y=366)', 580, 15, 'transform:translateX(-50%);', 'h');
txt('wysokość (min, środek, max)', 0, 3, 'left:auto;right:2px;', 'h');
txt('125 - 147 - 161 m', 838, 15, 'transform:translateX(-50%);', 'h');
txt('CET', 306, 43, 'font-size:12px;');
txt('CET', 860, 43, 'font-size:12px;');
txt('UTC', 305, 604, 'font-size:12px;');
txt('UTC', 860, 604, 'font-size:12px;');
txt('meteo@icm.edu.pl', 345, 642, '', 'h');
txt('© 2007-2024 ICM, Uniwersytet Warszawski', 623, 642, '', 'h');

function vtitle(lines, cx, cy, size) {
  const d = document.createElement('div');
  d.className = 'vt';
  d.innerHTML = lines.join('<br>');
  d.style.width = '140px'; d.style.height = '26px';
  d.style.left = (cx - 70) + 'px'; d.style.top = (cy - 13) + 'px';
  if (size) d.style.fontSize = size + 'px';
  page.appendChild(d);
}
[[['temperatura', '(°C)'], ['(°C)', 'temperatura'], 96],
 [['opad', '(mm/h, kg/m²h)'], ['(%)', 'wilgotność wzgl.'], 182],
 [['ciśnienie', '(hPa)'], ['(mm Hg)', 'ciśnienie'], 272],
 [['wiatr', '(m/s)'], ['(km/h)', 'wiatr'], 357],
 [['pion. rozciągł. chm.', '(km)'], ['(km)', 'widzialność'], 474, 11],
 [['zachmurzenie', '(oktanty)'], ['(frakcja)', 'mgła'], 567]
].forEach(t => { vtitle(t[0], 296, t[2], t[3]); vtitle(t[1], 891, t[2]); });

function compass(cx, cy) {
  const d = document.createElement('div');
  d.style.cssText = `position:absolute;left:${cx - 12}px;top:${cy - 14}px;width:26px;height:28px;color:#1c1c9c;font-size:11px;line-height:11px;font-family:"Liberation Sans",Arial,sans-serif;`;
  d.innerHTML = '<span style="position:absolute;left:12px;top:0">N</span>' +
    '<span style="position:absolute;left:0;top:8px">W</span>' +
    '<span style="position:absolute;left:18px;top:9px">E</span>' +
    '<span style="position:absolute;left:3px;top:17px">S</span>' +
    '<div style="position:absolute;left:13px;top:10px;width:12px;border-top:1px solid #1c1c9c"></div>' +
    '<div style="position:absolute;left:16px;top:10px;height:12px;border-left:1px solid #1c1c9c"></div>';
  page.appendChild(d);
}
compass(324, 418);
compass(893, 418);

const legend = [
  ['Czas lokalny', 6, 9, '#000'], ['(CET/CEST)', 6, 19, '#000'],
  ['Temperatura gruntu', 6, 36, '#b01010'], ['max/min', 27, 46, '#b01010'],
  ['Temperatura:', 6, 56, '#000'], ['punkt środkowy', 13, 71, '#ff0000'],
  ['max/min', 27, 81, '#ffc4c4'], ['odczuwana', 10, 93, '#0000ff'],
  ['max/min', 27, 103, '#a8d8ff'], ['Temp. punktu rosy', 10, 114, '#6a5acd'],
  ['Opad powyżej skali', 6, 131, '#ff0000'], ['Wilgotność względna', 6, 146, '#ff4500'],
  ['Wystąpienie burzy', 6, 160, '#000'], ['Deszcz: max', 6, 174, '#00a000'],
  ['średni', 48, 185, '#00a000'], ['Śnieg:', 6, 195, '#0000cc'], ['max', 48, 195, '#0000cc'],
  ['średni', 48, 206, '#0000cc'], ['Wystąpienie opadu', 6, 217, '#ff0000'],
  ['konwekcyjnego', 6, 231, '#ff0000'],
  ['Ciśnienie', 5, 257, '#000'], ['zredukowane', 5, 270, '#000'], ['do poziomu morza', 5, 282, '#000'],
  ['Wiatr na 10m:', 5, 312, '#000'], ['poryw powyżej skali', 10, 329, '#ff0000'],
  ['max porywy wiatru', 10, 343, '#ff0000'], ['prędkość wiatru', 10, 363, '#000080'],
  ['w środku obszaru', 10, 374, '#000080'], ['kierunek wiatru', 10, 403, '#000080'],
  ['Wierzchołek chmur', 6, 423, '#a52a2a'], ['Podstawa chmur*', 6, 439, '#000'],
  ['o pokryciu', 6, 449, '#000'], ['> 7.9 okt.', 10, 461, '#000'], ['> 6.5 okt.', 10, 473, '#555'],
  ['> 4.5 okt.', 10, 484, '#9a9a9a'], ['> 2.5 okt.', 10, 494, '#d4d4d4'],
  ['Widzialność', 6, 520, '#ff8c00'], ['Chmury:', 6, 537, '#000'],
  ['średnie', 10, 563, '#aaaaaa'], ['niskie', 10, 575, '#444'], ['bardzo niskie', 10, 587, '#000'],
  ['Mgła', 6, 599, '#ffb000']
];
legend.forEach(l => txt(l[0], l[1], l[2], 'color:' + l[3] + ';'));
txt('> 0.1 okt.', 10, 504, 'color:#fff;background:#87cefa;width:48px;');
txt('wysokie', 10, 550, 'color:#fff;background:#87cefa;width:44px;');
txt('Czas uniwersalny (UTC)', 6, 616, 'color:#000;font-size:12px;');
txt('* powyżej poziomu morza', 5, 643, 'color:#000;font-size:9px;font-weight:bold;');

// leader lines of the legend
const leaders = [
  ['#000', '67,16 135,16 157,43'], ['#a00000', '100,42 118,42 152,98'],
  ['#ff0000', '92,77 116,77'], ['#ff0000', '132,77 155,100'],
  ['#0000ff', '70,99 136,99 138,104'], ['#6a5acd', '94,120 135,120'],
  ['#ff0000', '102,137 146,137 146,146'], ['#ff4500', '112,152 122,152'], ['#ff4500', '132,152 145,168'],
  ['#000', '98,166 116,166'], ['#000', '131,166 137,172'],
  ['#00a000', '70,180 138,180'], ['#00a000', '80,191 138,191'],
  ['#0000cc', '64,201 112,201'], ['#0000cc', '132,201 160,172'], ['#0000cc', '82,212 130,212 157,193'],
  ['#ff0000', '103,223 140,223 140,219'], ['#000', '50,263 133,263'],
  ['#ff0000', '112,335 128,335'], ['#ff0000', '128,335 138,317'],
  ['#ff0000', '105,349 133,349 147,340'], ['#000080', '92,368 138,368'],
  ['#000080', '85,409 137,409'], ['#a52a2a', '100,429 133,429 183,447'],
  ['#000', '58,467 135,467 192,455'], ['#555', '58,479 137,479'],
  ['#9a9a9a', '58,491 132,491 140,505'], ['#cccccc', '58,501 130,501 138,509'],
  ['#87cefa', '58,511 137,511'], ['#ff8c00', '68,527 128,527 173,463'],
  ['#87cefa', '55,557 185,557'], ['#aaaaaa', '55,569 192,569'],
  ['#333', '37,582 122,582'], ['#000', '72,593 142,593'],
  ['#ffb000', '27,605 218,605 218,595'], ['#000', '137,623 147,623 160,606']
];
const svgNS = 'http://www.w3.org/2000/svg';
const svg = document.createElementNS(svgNS, 'svg');
svg.setAttribute('width', '910'); svg.setAttribute('height', '660');
leaders.forEach(l => {
  const p = document.createElementNS(svgNS, 'polyline');
  p.setAttribute('points', l[1]); p.setAttribute('fill', 'none');
  p.setAttribute('stroke', l[0]); p.setAttribute('stroke-width', '1');
  svg.appendChild(p);
});
page.appendChild(svg);
</script>
</body>
</html>
